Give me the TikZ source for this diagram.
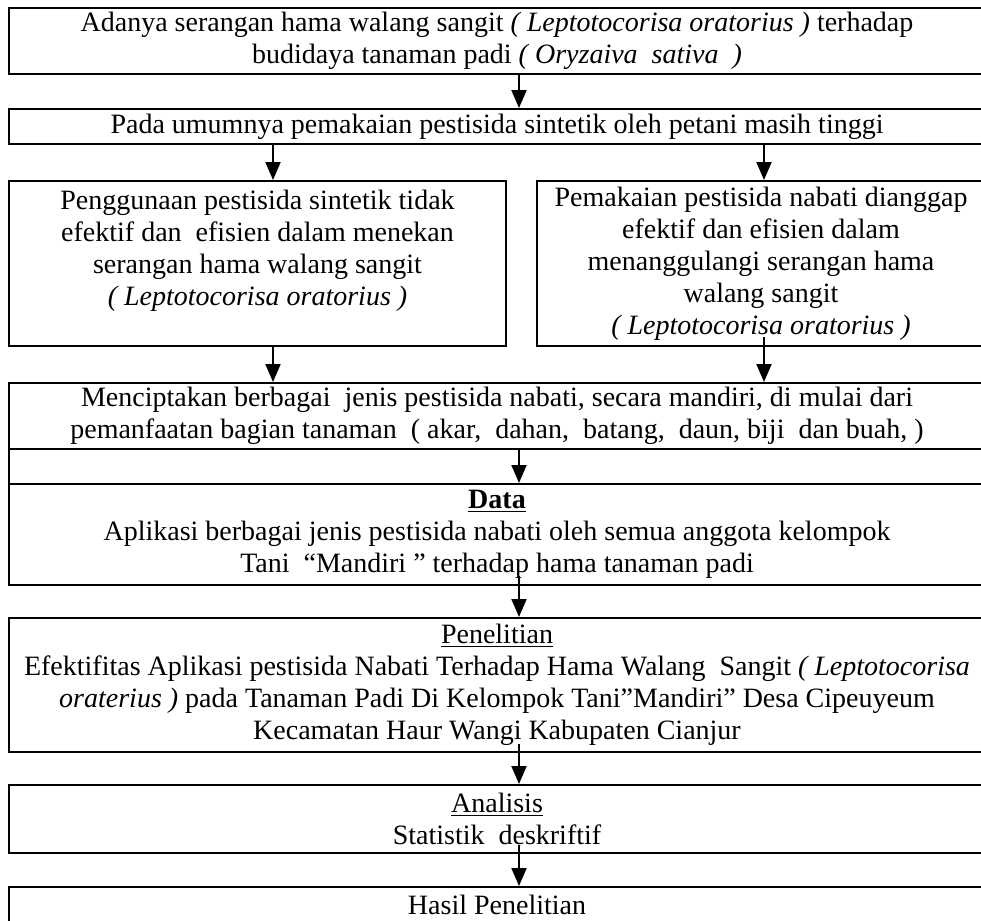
\documentclass[tikz,border=0pt]{standalone}
\usepackage{fontspec}
\setmainfont{Liberation Serif}
\usetikzlibrary{arrows.meta, positioning}

\begin{document}
\begin{tikzpicture}[x=0.5pt, y=-0.5pt, >={Triangle[width=7.5pt, length=9pt]},
  box/.style={draw, line width=1pt, align=center, anchor=north west, inner sep=0pt,
    font=\fontsize{14}{16}\selectfont},
  panah/.style={->, line width=1pt}]
  \useasboundingbox (0,0) rectangle (981,921);
  \clip (0,0) rectangle (981,921);
  % columns of the arrows
  \coordinate (kiri) at (273,0);
  \coordinate (tengah) at (519,0);
  \coordinate (kanan) at (764,0);
  % boxes, top to bottom
  \node[box, minimum width=488pt, minimum height=33pt] (masalah) at (8,7)
    {Adanya serangan hama walang sangit \textit{( Leptotocorisa oratorius )} terhadap\\
     budidaya tanaman padi \textit{( Oryzaiva~ sativa~ )}};
  \node[box, minimum width=488pt, minimum height=17.5pt] (umum) at (8,108)
    {Pada umumnya pemakaian pestisida sintetik oleh petani masih tinggi};
  \node[box, minimum width=248.5pt, minimum height=82.5pt] (sintetik) at (8,180)
    {Penggunaan pestisida sintetik tidak\\ efektif dan~ efisien dalam menekan\\
     serangan hama walang sangit\\ \textit{( Leptotocorisa oratorius )}\\ \mbox{}};
  \node[box, minimum width=224pt, minimum height=82.5pt] (nabati) at (536,180)
    {Pemakaian pestisida nabati dianggap\\ efektif dan efisien dalam\\
     menanggulangi serangan hama\\ walang sangit\\ \textit{( Leptotocorisa oratorius )}};
  \node[box, minimum width=488pt, minimum height=33pt] (cipta) at (8,382)
    {Menciptakan berbagai~ jenis pestisida nabati, secara mandiri, di mulai dari\\
     pemanfaatan bagian tanaman~ ( akar,~ dahan,~ batang,~ daun, biji~ dan buah, )};
  \node[box, minimum width=488pt, minimum height=17.5pt] (sela) at (8,448) {};
  \node[box, minimum width=488pt, minimum height=50.5pt] (data) at (8,483)
    {\textbf{\underline{Data}}\\
     Aplikasi berbagai jenis pestisida nabati oleh semua anggota kelompok\\
     Tani~ “Mandiri ” terhadap hama tanaman padi};
  \node[box, minimum width=488pt, minimum height=67pt] (teliti) at (8,617)
    {\underline{Penelitian}\\
     Efektifitas Aplikasi pestisida Nabati Terhadap Hama Walang~ Sangit \textit{( Leptotocorisa}\\
     \textit{oraterius )} pada Tanaman Padi Di Kelompok Tani”Mandiri” Desa Cipeuyeum\\
     Kecamatan Haur Wangi Kabupaten Cianjur};
  \node[box, minimum width=488pt, minimum height=34pt] (analisis) at (8,784)
    {\underline{Analisis}\\ Statistik~ deskriftif};
  \node[box, minimum width=488pt, minimum height=34pt] (hasil) at (8,886)
    {Hasil Penelitian\\ \mbox{}};
  % arrows
  \draw[panah] (masalah.south -| tengah) -- (umum.north -| tengah);
  \draw[panah] (umum.south -| kiri) -- (sintetik.north -| kiri);
  \draw[panah] (umum.south -| kanan) -- (nabati.north -| kanan);
  \draw[panah] (sintetik.south -| kiri) -- (cipta.north -| kiri);
  \draw[panah] ([yshift=5pt]nabati.south -| kanan) -- (cipta.north -| kanan);
  \draw[panah] (sela.north -| tengah) -- (data.north -| tengah);
  \draw[panah] ([yshift=5pt]data.south -| tengah) -- (teliti.north -| tengah);
  \draw[panah] ([yshift=4.5pt]teliti.south -| tengah) -- (analisis.north -| tengah);
  \draw[panah] ([yshift=4.5pt]analisis.south -| tengah) -- (hasil.north -| tengah);
\end{tikzpicture}
\end{document}
